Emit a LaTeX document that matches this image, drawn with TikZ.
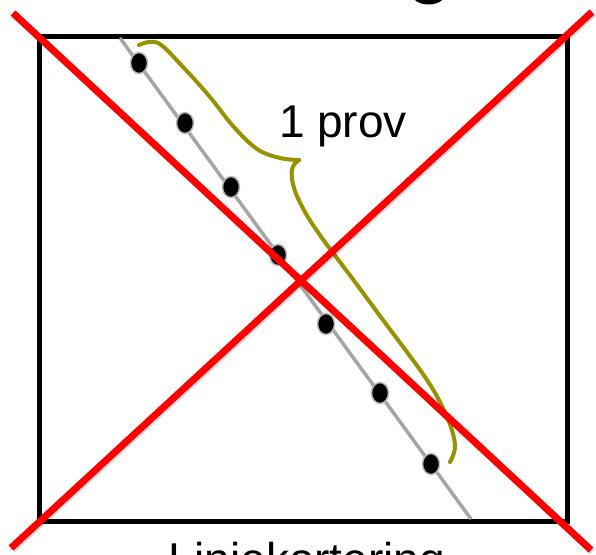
\documentclass[tikz,border=0pt]{standalone}
\usepackage{fontspec}
\setmainfont{Liberation Sans}
\usetikzlibrary{shapes.geometric}
\definecolor{braceolive}{RGB}{153,146,0}
\definecolor{xred}{RGB}{255,0,0}
\definecolor{linegray}{RGB}{165,165,165}
\tikzset{
  frame/.style={line width=5pt, draw=black},
  trackline/.style={line width=3.5pt, draw=linegray},
  dot/.style={ellipse, fill=black, draw=linegray!80, line width=1.5pt,
              minimum width=17pt, minimum height=21pt, inner sep=0pt},
  bracepath/.style={line width=4pt, draw=braceolive, line cap=round},
  cross/.style={line width=7pt, draw=xred},
  crossshadow/.style={line width=7pt, draw=black, opacity=0.15},
  bigtext/.style={font=\fontsize{46}{50}\selectfont, inner sep=0pt, anchor=base},
  titletext/.style={font=\fontsize{84}{90}\selectfont, inner sep=0pt, anchor=base}
}
\begin{document}
\begin{tikzpicture}[x=1pt,y=-1pt]
\useasboundingbox (0,0) rectangle (596,554);
\clip (0,0) rectangle (596,554);
\fill[white] (0,0) rectangle (596,554);
% partial title (cut off at top)
\node[titletext] (title) at (430,-12.5) {g};
% frame
\draw[frame] (39,36) rectangle (567,521);
% track line and points
\coordinate (ltop) at (120,38);
\coordinate (lbot) at (471,519);
\draw[trackline] (ltop) -- (lbot);
\node[dot] (p1) at (139,63) {};
\node[dot] (p2) at (185,123) {};
\node[dot] (p3) at (231,187) {};
\node[dot] (p4) at (278,255) {};
\node[dot] (p5) at (326,324) {};
\node[dot] (p6) at (380,393) {};
\node[dot] (p7) at (431,464) {};
% brace
\draw[bracepath] plot[smooth, tension=0.6] coordinates {(139,45) (158,43) (183,67) (210,97) (233,126) (257,149) (280,158) (299,160)};
\draw[bracepath] plot[smooth, tension=0.6] coordinates {(299,160) (292,169) (294,188) (305,212) (322,238) (352,278) (383,320) (427,380) (447,417) (455,445) (450,462)};
% label
\node[bigtext] (lab) at (343,137) {1 prov};
% red cross
\coordinate (a1) at (13,13);
\coordinate (a2) at (591,550);
\coordinate (b1) at (592,12);
\coordinate (b2) at (11,548);
\draw[crossshadow] ([shift={(1.5,1.5)}]a1) -- ([shift={(1.5,1.5)}]a2);
\draw[crossshadow] ([shift={(1.5,1.5)}]b1) -- ([shift={(1.5,1.5)}]b2);
\draw[cross] (a1) -- (a2);
\draw[cross] (b1) -- (b2);
% bottom caption (cut off)
\node[bigtext] (cap) at (307,575) {Linjekartering};
\end{tikzpicture}
\end{document}
